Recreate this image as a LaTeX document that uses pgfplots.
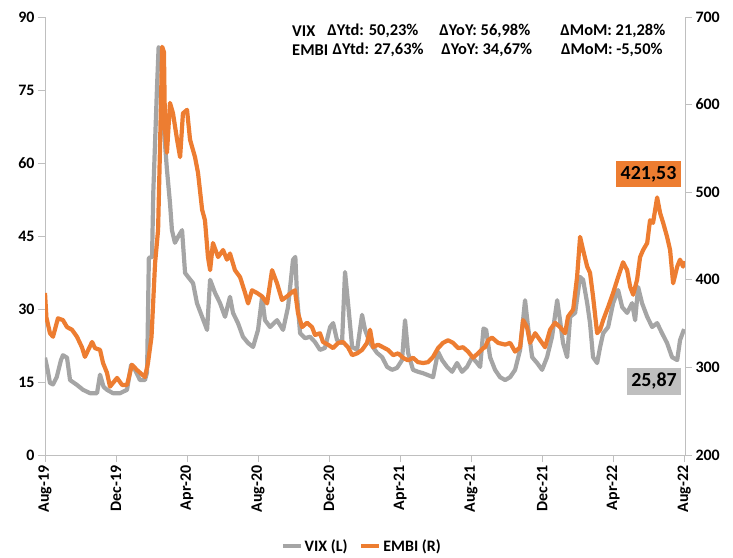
\documentclass[border=0pt]{standalone}
\usepackage{pgfplots}
\pgfplotsset{compat=1.18}
\usepackage{fontspec}
\setmainfont{Carlito}
\definecolor{embi}{HTML}{ED7D31}
\definecolor{vix}{HTML}{A5A5A5}
\definecolor{vixbox}{HTML}{BFBFBF}
\definecolor{axl}{HTML}{BFBFBF}
\begin{document}
\begin{tikzpicture}
\path[use as bounding box] (-45bp,-103bp) rectangle (688bp,455bp);
\pgfplotsset{
  base/.style={
    width=640bp, height=438bp, scale only axis,
    xmin=0, xmax=36.05,
    /pgf/number format/assume math mode=true,
    tick label style={font=\fontsize{16}{18}\selectfont\bfseries, black},
    tick align=outside, major tick length=7bp,
    tick style={axl, line width=0.8bp},
    axis line style={axl, line width=0.8bp},
  }
}
\begin{axis}[base,
  axis x line*=bottom, axis y line*=left,
  ymin=0, ymax=90, ytick={0,15,30,45,60,75,90},
  xtick={0,4,8,12,16,20,24,28,32,36},
  xticklabels={Aug-19,Dec-19,Apr-20,Aug-20,Dec-20,Apr-21,Aug-21,Dec-21,Apr-22,Aug-22},
  xticklabel style={rotate=90, anchor=east},
]
\addplot[vix, line width=4.2bp, line join=round] coordinates {
(0.00,20.0)(0.15,17.5)(0.28,14.8)(0.45,14.5)(0.66,16.0)(0.90,19.5)(1.01,20.5)(1.24,20.0)
(1.41,15.4)(1.80,14.4)(2.14,13.4)(2.54,12.7)(2.93,12.7)(3.10,16.5)(3.30,14.0)(3.49,13.4)
(3.83,12.7)(4.23,12.7)(4.62,13.4)(4.85,18.5)(5.07,17.5)(5.35,15.4)(5.63,15.4)(5.75,17.0)
(5.85,40.5)(6.03,40.7)(6.10,54.0)(6.31,75.6)(6.40,83.8)(6.60,83.0)(6.70,66.8)(6.87,58.6)
(7.04,51.8)(7.15,46.2)(7.32,43.6)(7.49,44.8)(7.72,46.2)(7.89,37.4)(8.06,36.6)(8.34,35.3)
(8.56,31.2)(8.85,28.4)(9.13,25.7)(9.30,36.0)(9.58,33.3)(9.86,31.2)(10.14,28.4)(10.42,32.5)
(10.59,29.2)(10.87,27.1)(11.15,24.3)(11.44,23.0)(11.72,22.2)(12.00,25.7)(12.23,32.5)(12.39,27.7)
(12.68,26.3)(13.07,27.7)(13.41,25.7)(13.69,30.4)(13.97,40.1)(14.10,40.7)(14.20,32.5)(14.37,25.0)
(14.65,24.0)(14.93,24.3)(15.21,23.2)(15.49,21.6)(15.77,22.0)(16.06,26.3)(16.23,27.1)(16.45,23.6)
(16.73,23.0)(16.90,37.6)(17.07,31.2)(17.30,22.2)(17.58,21.6)(17.86,28.8)(18.03,25.7)(18.31,23.0)
(18.70,21.0)(18.99,20.1)(19.27,18.1)(19.55,17.5)(19.83,17.9)(20.11,19.5)(20.28,27.7)(20.45,21.0)
(20.73,17.5)(21.01,17.1)(21.30,16.8)(21.58,16.4)(21.86,16.0)(22.14,21.2)(22.37,19.5)(22.65,18.1)
(22.93,17.1)(23.21,18.9)(23.49,17.1)(23.77,18.1)(24.06,20.1)(24.34,18.9)(24.51,18.1)(24.70,26.0)
(24.85,25.7)(25.07,20.1)(25.35,17.5)(25.63,16.0)(25.92,15.4)(26.20,16.0)(26.48,17.5)(26.76,21.6)
(27.04,31.8)(27.21,26.3)(27.44,20.1)(27.72,18.9)(28.00,17.5)(28.28,20.1)(28.56,24.3)(28.85,31.8)
(29.01,27.7)(29.18,23.0)(29.41,20.1)(29.58,28.4)(29.86,29.2)(30.14,36.6)(30.31,36.0)(30.54,31.2)
(30.70,27.1)(30.87,20.1)(31.10,18.9)(31.27,22.2)(31.44,25.0)(31.72,26.3)(32.00,31.2)(32.28,33.9)
(32.51,30.4)(32.79,29.2)(33.07,31.2)(33.24,27.7)(33.41,34.5)(33.63,31.2)(33.92,28.4)(34.20,26.3)
(34.48,27.1)(34.76,25.0)(35.04,23.0)(35.32,20.1)(35.61,19.5)(35.77,23.6)(36.00,25.87)
};
\end{axis}
\begin{axis}[base,
  axis x line=none, axis y line*=right,
  ymin=200, ymax=700, ytick={200,300,400,500,600,700},
  legend style={at={(0.495,-0.208)}, anchor=center, draw=none, fill=none,
    font=\fontsize{16}{18}\selectfont\bfseries, legend columns=2,
    /tikz/every even column/.append style={column sep=10bp}},
  legend image code/.code={\draw[#1, line width=4bp] (0bp,0bp) -- (18bp,0bp);},
]
\addlegendimage{vix}
\addlegendentry{VIX (L)}
\addplot[embi, line width=4.2bp, line join=round] coordinates {
(0.00,385)(0.08,357)(0.28,339)(0.45,335)(0.73,356)(1.01,354)(1.24,346)(1.52,343)
(1.80,335)(2.08,323)(2.25,312)(2.65,329)(2.82,322)(3.10,320)(3.27,305)(3.49,294)
(3.66,278)(4.06,288)(4.34,280)(4.62,280)(4.90,303)(5.18,297)(5.35,294)(5.63,289)
(5.80,305)(6.00,335)(6.20,419)(6.37,457)(6.48,552)(6.60,666)(6.70,660)(6.76,571)
(6.87,545)(7.04,602)(7.21,590)(7.44,560)(7.61,540)(7.77,590)(8.00,594)(8.17,560)
(8.45,540)(8.62,522)(8.85,480)(9.01,468)(9.18,426)(9.30,411)(9.46,442)(9.75,426)
(10.03,434)(10.25,423)(10.42,430)(10.70,411)(10.99,403)(11.27,385)(11.44,373)(11.66,388)
(11.94,385)(12.23,381)(12.51,373)(12.79,411)(13.07,396)(13.35,377)(13.63,381)(13.92,386)
(14.08,388)(14.25,362)(14.48,346)(14.76,351)(15.04,346)(15.21,337)(15.49,339)(15.66,329)
(15.94,326)(16.23,322)(16.51,328)(16.79,329)(17.07,323)(17.30,314)(17.58,316)(17.86,320)
(18.14,328)(18.31,343)(18.48,323)(18.76,326)(19.04,323)(19.32,320)(19.61,314)(19.89,316)
(20.17,311)(20.45,308)(20.73,311)(21.01,306)(21.30,305)(21.58,306)(21.86,312)(22.14,322)
(22.42,328)(22.70,331)(22.99,328)(23.27,322)(23.55,323)(23.83,318)(24.11,311)(24.39,316)
(24.68,322)(24.79,323)(24.96,331)(25.18,334)(25.52,328)(25.92,326)(26.20,328)(26.48,318)
(26.76,323)(26.93,354)(27.15,346)(27.32,328)(27.61,339)(27.89,331)(28.17,323)(28.45,343)
(28.73,351)(29.01,346)(29.30,339)(29.46,358)(29.75,366)(29.97,403)(30.14,449)(30.31,434)
(30.54,415)(30.70,408)(30.87,381)(31.10,339)(31.27,343)(31.44,354)(31.72,369)(32.00,385)
(32.28,403)(32.56,420)(32.79,411)(32.96,392)(33.13,383)(33.35,400)(33.52,426)(33.69,434)
(33.92,442)(34.08,468)(34.25,465)(34.48,494)(34.65,476)(34.82,465)(35.04,449)(35.21,434)
(35.38,396)(35.61,415)(35.77,423)(35.94,415)(36.00,421.53)
};
\addlegendentry{EMBI (R)}
% annotations
\begin{scope}[every node/.style={inner sep=0pt, anchor=west, font=\fontsize{16.5}{19}\selectfont\bfseries}]
\node at (axis description cs:0.386,0.968) {VIX};
\node at (axis description cs:0.441,0.968) {ΔYtd: 50,23\%};
\node at (axis description cs:0.616,0.968) {ΔYoY: 56,98\%};
\node at (axis description cs:0.805,0.968) {ΔMoM: 21,28\%};
\node at (axis description cs:0.386,0.925) {EMBI};
\node at (axis description cs:0.449,0.925) {ΔYtd: 27,63\%};
\node at (axis description cs:0.619,0.925) {ΔYoY: 34,67\%};
\node at (axis description cs:0.806,0.925) {ΔMoM: -5,50\%};
\end{scope}
\node[fill=embi, minimum width=65bp, minimum height=26bp, inner sep=0pt,
  font=\fontsize{20}{22}\selectfont\bfseries] at (axis description cs:0.943,0.6416) {421,53};
\node[fill=vixbox, minimum width=54bp, minimum height=27bp, inner sep=0pt,
  font=\fontsize{20}{22}\selectfont\bfseries] at (axis description cs:0.9516,0.168) {25,87};
\end{axis}
\end{tikzpicture}
\end{document}
